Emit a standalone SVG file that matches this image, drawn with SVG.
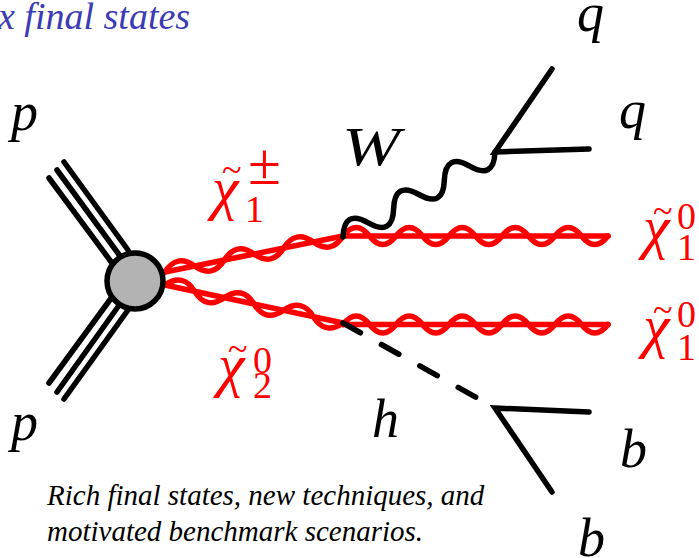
<svg xmlns="http://www.w3.org/2000/svg" width="699" height="558" viewBox="0 0 699 558">
<style>
.l{fill:none;stroke:#000;stroke-width:5.500;stroke-linecap:round}
.r{fill:none;stroke:#f00;stroke-width:5.500;stroke-linecap:round}
.m{font-family:"Liberation Serif",serif;font-style:italic;font-size:54px;fill:#000}
.c{font-family:"Liberation Serif",serif;font-size:60px;fill:#f00;font-style:italic}
.t{font-family:"Liberation Serif",serif;font-size:36px;fill:#f00}
.s{font-family:"Liberation Serif",serif;font-size:38px;fill:#f00}
.n{font-family:"Liberation Serif",serif;font-style:italic;font-size:29px;fill:#000}
</style>
<rect width="699" height="558" fill="#fff"/>
<g id="connectors">
<path class="l" d="M49 178L112 263M57 170L120 256M64 162L128 250M49 383L112 297M57 392L120 304M64 399L128 310"/>
<path class="r" d="M165 272L343 236M343 236H608M165 285L343 323M343 324.500H608"/>
<path class="r" d="M165 272q11.670 -18.700 29.670 -6t29.670 -6t29.670 -6t29.670 -6t29.670 -6t29.670 -6"/>
<path class="r" d="M165 285q18.200 -12.500 29.670 6.330t29.670 6.330t29.670 6.330t29.670 6.330t29.670 6.330t29.670 6.330"/>
<path class="r" d="M343 236q13.250 -17 26.500 0t26.500 0t26.500 0t26.500 0t26.500 0t26.500 0t26.500 0t26.500 0t26.500 0t26.500 0"/>
<path class="r" d="M343 324.500q13.250 -17 26.500 0t26.500 0t26.500 0t26.500 0t26.500 0t26.500 0t26.500 0t26.500 0t26.500 0t26.500 0"/>
<path class="l" d="M343 237q1 -28 25.330 -14.170t25.330 -14.170t25.330 -14.170t25.330 -14.170t25.330 -14.170t25.330 -14.170"/>
<path class="l" d="M552 69L495 152L589 149M589 412L495 408L552 492"/>
<path class="l" stroke-dasharray="20 24" d="M343 323L495 408"/>
</g>
<g id="vertex"><circle cx="135" cy="281" r="28" fill="#b3b3b3" stroke="#000" stroke-width="5.500"/></g>
<g id="label-title"><text x="-2" y="29" font-family="Liberation Serif, serif" font-style="italic" font-size="38" fill="#3b3bb5">x final states</text></g>
<g id="label-p1"><text class="m" x="11" y="130">p</text></g>
<g id="label-p2"><text class="m" x="11" y="440">p</text></g>
<g id="label-W"><text class="m" x="342" y="165" textLength="58" lengthAdjust="spacingAndGlyphs">W</text></g>
<g id="label-q1"><text class="m" x="577" y="31">q</text></g>
<g id="label-q2"><text class="m" x="619" y="128">q</text></g>
<g id="label-h"><text class="m" x="372" y="437">h</text></g>
<g id="label-b1"><text class="m" x="620" y="467">b</text></g>
<g id="label-b2"><text class="m" x="578" y="556">b</text></g>
<g id="label-c1"><text class="c" x="212" y="208">χ</text><text class="t" x="222" y="182">~</text><text class="c" x="248" y="184" style="font-style:normal">±</text><text class="s" x="245" y="222">1</text></g>
<g id="label-n2"><text class="c" x="218" y="385">χ</text><text class="t" x="228" y="361">~</text><text class="s" x="253" y="373">0</text><text class="s" x="253" y="398">2</text></g>
<g id="label-n1a"><text class="c" x="643" y="247">χ</text><text class="t" x="653" y="223">~</text><text class="s" x="677" y="229">0</text><text class="s" x="677" y="260">1</text></g>
<g id="label-n1b"><text class="c" x="643" y="346">χ</text><text class="t" x="653" y="322">~</text><text class="s" x="677" y="327">0</text><text class="s" x="677" y="360">1</text></g>
<g id="caption"><text class="n" x="47" y="505">Rich final states, new techniques, and</text><text class="n" x="47" y="541">motivated benchmark scenarios.</text></g>
</svg>
